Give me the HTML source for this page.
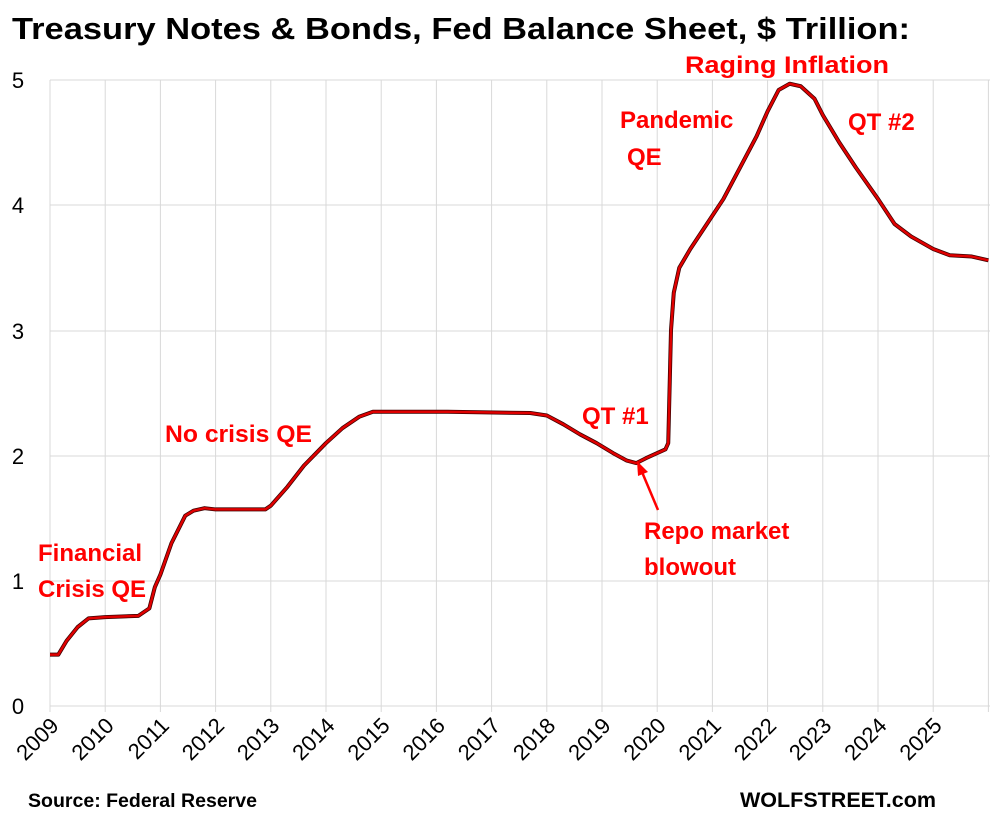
<!DOCTYPE html>
<html><head><meta charset="utf-8"><style>
body{margin:0;background:#fff}
</style></head><body>
<svg width="1008" height="819" xmlns="http://www.w3.org/2000/svg" font-family="Liberation Sans, sans-serif">
<rect width="1008" height="819" fill="#fff"/>
<text x="12" y="39" font-size="31" font-weight="bold" fill="#000" textLength="898" lengthAdjust="spacingAndGlyphs">Treasury Notes &amp; Bonds, Fed Balance Sheet, $ Trillion:</text>
<g stroke="#d9d9d9" stroke-width="1">
<line x1="50" x2="990" y1="80" y2="80"/><line x1="50" x2="990" y1="205" y2="205"/>
<line x1="50" x2="990" y1="331" y2="331"/><line x1="50" x2="990" y1="456" y2="456"/>
<line x1="50" x2="990" y1="581" y2="581"/><line x1="50" x2="990" y1="706" y2="706"/>
<line x1="50" x2="50" y1="80" y2="712"/><line x1="105.2" x2="105.2" y1="80" y2="712"/>
<line x1="160.4" x2="160.4" y1="80" y2="712"/><line x1="215.6" x2="215.6" y1="80" y2="712"/>
<line x1="270.8" x2="270.8" y1="80" y2="712"/><line x1="326" x2="326" y1="80" y2="712"/>
<line x1="381.2" x2="381.2" y1="80" y2="712"/><line x1="436.4" x2="436.4" y1="80" y2="712"/>
<line x1="491.6" x2="491.6" y1="80" y2="712"/><line x1="546.8" x2="546.8" y1="80" y2="712"/>
<line x1="602" x2="602" y1="80" y2="712"/><line x1="657.2" x2="657.2" y1="80" y2="712"/>
<line x1="712.4" x2="712.4" y1="80" y2="712"/><line x1="767.6" x2="767.6" y1="80" y2="712"/>
<line x1="822.8" x2="822.8" y1="80" y2="712"/><line x1="878" x2="878" y1="80" y2="712"/>
<line x1="933.2" x2="933.2" y1="80" y2="712"/><line x1="988.4" x2="988.4" y1="80" y2="712"/>
</g>
<g font-size="22" fill="#000" text-anchor="middle">
<text x="18" y="88">5</text><text x="18" y="213">4</text><text x="18" y="339">3</text>
<text x="18" y="464">2</text><text x="18" y="589">1</text><text x="18" y="714">0</text>
</g>
<g font-size="22" fill="#000" text-anchor="end">
<text transform="translate(60,727) rotate(-45)">2009</text>
<text transform="translate(115.2,727) rotate(-45)">2010</text>
<text transform="translate(170.4,727) rotate(-45)">2011</text>
<text transform="translate(225.6,727) rotate(-45)">2012</text>
<text transform="translate(280.8,727) rotate(-45)">2013</text>
<text transform="translate(336,727) rotate(-45)">2014</text>
<text transform="translate(391.2,727) rotate(-45)">2015</text>
<text transform="translate(446.4,727) rotate(-45)">2016</text>
<text transform="translate(501.6,727) rotate(-45)">2017</text>
<text transform="translate(556.8,727) rotate(-45)">2018</text>
<text transform="translate(612,727) rotate(-45)">2019</text>
<text transform="translate(667.2,727) rotate(-45)">2020</text>
<text transform="translate(722.4,727) rotate(-45)">2021</text>
<text transform="translate(777.6,727) rotate(-45)">2022</text>
<text transform="translate(832.8,727) rotate(-45)">2023</text>
<text transform="translate(888,727) rotate(-45)">2024</text>
<text transform="translate(943.2,727) rotate(-45)">2025</text>
</g>
<g transform="translate(50,706) scale(55.2,-125.2)">
<polyline fill="none" stroke="#3a0000" stroke-width="4" vector-effect="non-scaling-stroke" stroke-linejoin="round" points="0,0.41 0.15,0.41 0.3,0.52 0.5,0.63 0.7,0.70 1.0,0.71 1.6,0.72 1.8,0.78 1.9,0.95 2.0,1.05 2.2,1.3 2.45,1.52 2.6,1.56 2.8,1.58 3.0,1.57 3.5,1.57 3.9,1.57 4.0,1.6 4.3,1.75 4.6,1.92 5.0,2.1 5.3,2.22 5.6,2.31 5.85,2.35 7.2,2.35 8.7,2.34 9.0,2.32 9.3,2.25 9.6,2.17 9.9,2.10 10.2,2.02 10.45,1.96 10.62,1.94 10.8,1.98 11.15,2.05 11.2,2.1 11.25,3.0 11.3,3.3 11.4,3.5 11.6,3.65 11.9,3.85 12.2,4.05 12.5,4.3 12.8,4.55 13.0,4.75 13.2,4.92 13.4,4.97 13.6,4.95 13.85,4.85 14.0,4.72 14.3,4.5 14.6,4.3 15.0,4.05 15.3,3.85 15.6,3.75 16.0,3.65 16.3,3.6 16.7,3.59 17.0,3.56"/>
<polyline fill="none" stroke="#e00000" stroke-width="2.5" vector-effect="non-scaling-stroke" stroke-linejoin="round" points="0,0.41 0.15,0.41 0.3,0.52 0.5,0.63 0.7,0.70 1.0,0.71 1.6,0.72 1.8,0.78 1.9,0.95 2.0,1.05 2.2,1.3 2.45,1.52 2.6,1.56 2.8,1.58 3.0,1.57 3.5,1.57 3.9,1.57 4.0,1.6 4.3,1.75 4.6,1.92 5.0,2.1 5.3,2.22 5.6,2.31 5.85,2.35 7.2,2.35 8.7,2.34 9.0,2.32 9.3,2.25 9.6,2.17 9.9,2.10 10.2,2.02 10.45,1.96 10.62,1.94 10.8,1.98 11.15,2.05 11.2,2.1 11.25,3.0 11.3,3.3 11.4,3.5 11.6,3.65 11.9,3.85 12.2,4.05 12.5,4.3 12.8,4.55 13.0,4.75 13.2,4.92 13.4,4.97 13.6,4.95 13.85,4.85 14.0,4.72 14.3,4.5 14.6,4.3 15.0,4.05 15.3,3.85 15.6,3.75 16.0,3.65 16.3,3.6 16.7,3.59 17.0,3.56"/>
</g>
<g font-size="24" font-weight="bold" fill="#ff0000">
<text x="38" y="561">Financial</text><text x="38" y="597">Crisis QE</text>
<text x="165" y="442" textLength="147" lengthAdjust="spacingAndGlyphs">No crisis QE</text>
<text x="582" y="424">QT #1</text>
<text x="644" y="539">Repo market</text><text x="644" y="575">blowout</text>
<text x="620" y="128">Pandemic</text><text x="627" y="165">QE</text>
<text x="685" y="73" textLength="204" lengthAdjust="spacingAndGlyphs">Raging  Inflation</text>
<text x="848" y="130">QT #2</text>
</g>
<line x1="658" y1="510" x2="642" y2="472" stroke="#ff0000" stroke-width="2.5"/>
<polygon points="637,461 648,472 638,476" fill="#ff0000"/>
<text x="28" y="807" font-size="19" font-weight="bold" fill="#000" textLength="229" lengthAdjust="spacingAndGlyphs">Source: Federal Reserve</text>
<text x="740" y="807" font-size="21" font-weight="bold" fill="#000" textLength="196" lengthAdjust="spacingAndGlyphs">WOLFSTREET.com</text>
</svg>
</body></html>
